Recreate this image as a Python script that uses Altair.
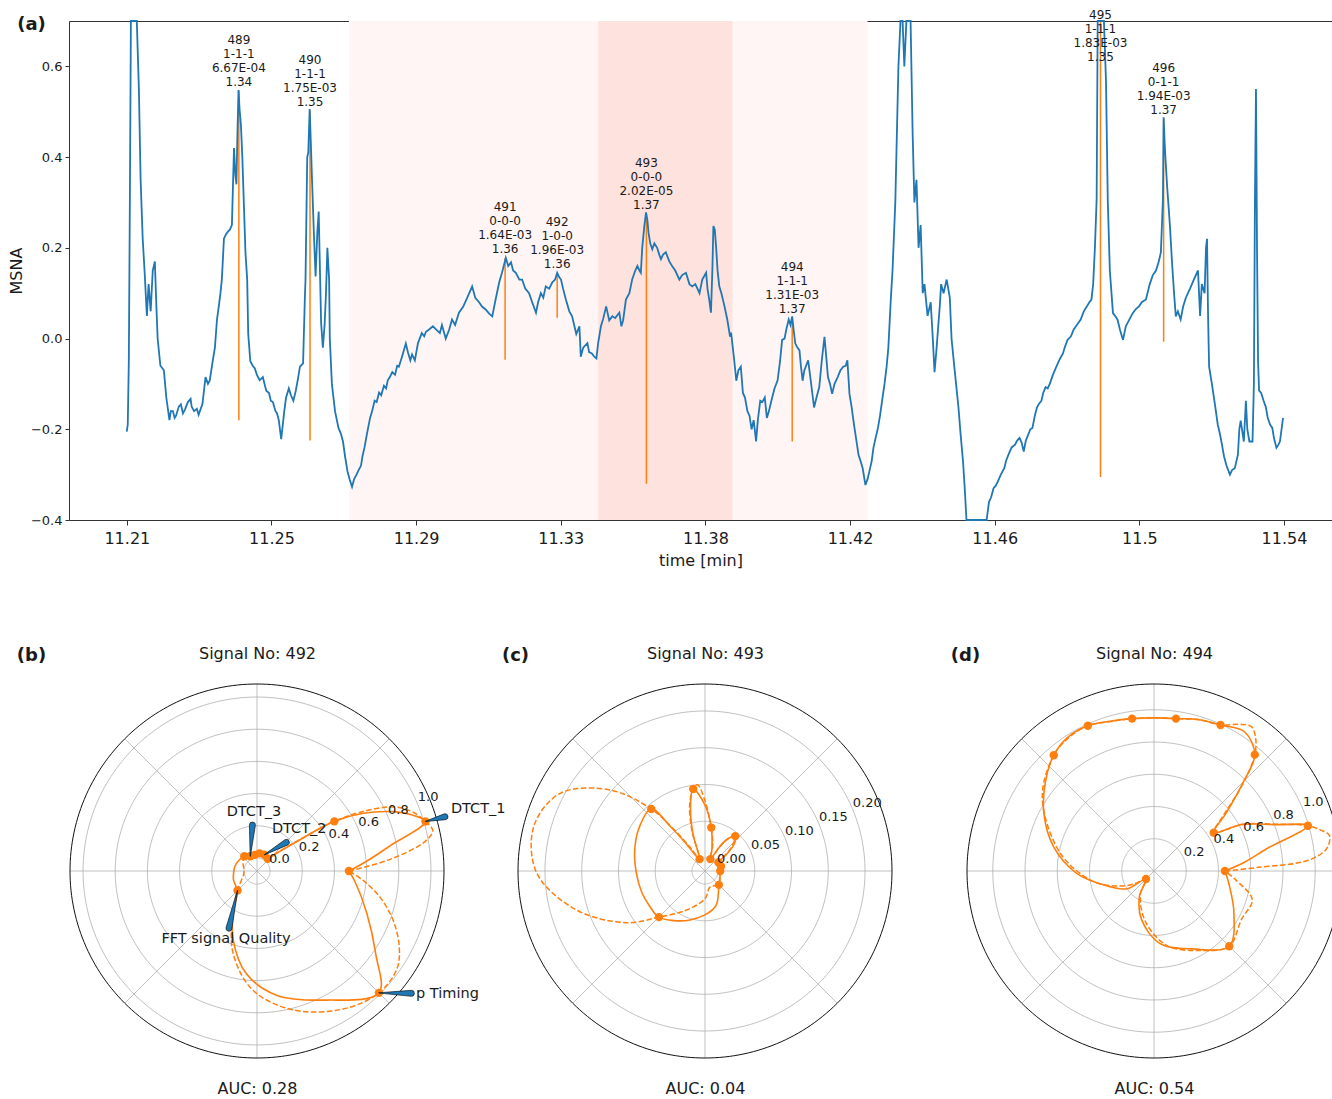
import json
import altair as alt
import pandas as pd

# ================= panel (a): MSNA trace =================
signal = [
    (11.2083, -0.205), (11.2086, -0.19), (11.2089, -0.05), (11.2092, 0.3), (11.2095, 0.8), (11.2100, 1.0),
    (11.2106, 0.95), (11.2112, 0.8), (11.2118, 0.55), (11.2123, 0.35), (11.2129, 0.22), (11.2135, 0.14),
    (11.2141, 0.05), (11.2146, 0.12), (11.2152, 0.06), (11.2158, 0.15), (11.2164, 0.17), (11.2168, 0.08),
    (11.2172, 0.0), (11.2180, -0.06), (11.2190, -0.07), (11.2197, -0.13), (11.2206, -0.18), (11.2210, -0.16),
    (11.2216, -0.16), (11.2221, -0.175), (11.2225, -0.17), (11.2233, -0.15), (11.2239, -0.145), (11.2245, -0.165),
    (11.2251, -0.156), (11.2259, -0.14), (11.2267, -0.133), (11.2270, -0.15), (11.2277, -0.16), (11.2285, -0.155),
    (11.2290, -0.168), (11.2296, -0.155), (11.2301, -0.145), (11.2310, -0.085), (11.2317, -0.1), (11.2322, -0.093),
    (11.2331, -0.048), (11.2337, -0.02), (11.2343, 0.042), (11.2348, 0.07), (11.2353, 0.1), (11.2357, 0.13),
    (11.2363, 0.22), (11.2369, 0.23), (11.2374, 0.235), (11.2380, 0.24), (11.2386, 0.25), (11.2392, 0.42),
    (11.2396, 0.36), (11.2399, 0.34), (11.2402, 0.455), (11.2405, 0.548), (11.2408, 0.506), (11.2412, 0.47),
    (11.2416, 0.40), (11.2420, 0.307), (11.2425, 0.19), (11.2430, 0.13), (11.2433, 0.01), (11.2439, -0.05),
    (11.2446, -0.06), (11.2452, -0.066), (11.2458, -0.08), (11.2466, -0.092), (11.2475, -0.085), (11.2480, -0.10),
    (11.2485, -0.115), (11.2493, -0.12), (11.2498, -0.137), (11.2504, -0.14), (11.2511, -0.159), (11.2516, -0.165),
    (11.2521, -0.18), (11.2528, -0.222), (11.2537, -0.159), (11.2542, -0.13), (11.2550, -0.11), (11.2556, -0.125),
    (11.2563, -0.137), (11.2570, -0.115), (11.2576, -0.09), (11.2582, -0.062), (11.2591, -0.055), (11.2596, 0.086),
    (11.2598, 0.13), (11.2603, 0.40), (11.2606, 0.41), (11.2610, 0.506), (11.2613, 0.44), (11.2617, 0.345),
    (11.2622, 0.234), (11.2627, 0.137), (11.2632, 0.234), (11.2636, 0.28), (11.2640, 0.137), (11.2643, 0.034),
    (11.2648, -0.02), (11.2653, 0.03), (11.2657, 0.1), (11.2661, 0.2), (11.2666, 0.13), (11.2668, 0.0),
    (11.2674, -0.1), (11.2683, -0.16), (11.2693, -0.197), (11.2700, -0.21), (11.2706, -0.227), (11.2712, -0.26),
    (11.2719, -0.293), (11.2725, -0.31), (11.2732, -0.327), (11.2738, -0.31), (11.2745, -0.30), (11.2751, -0.29),
    (11.2758, -0.28), (11.2762, -0.26), (11.2768, -0.24), (11.2775, -0.21), (11.2784, -0.175), (11.2790, -0.16),
    (11.2797, -0.137), (11.2803, -0.14), (11.2810, -0.119), (11.2816, -0.125), (11.2824, -0.104), (11.2830, -0.11),
    (11.2835, -0.092), (11.2841, -0.085), (11.2848, -0.074), (11.2856, -0.08), (11.2862, -0.06), (11.2867, -0.062),
    (11.2876, -0.04), (11.2887, -0.011), (11.2893, -0.03), (11.2900, -0.048), (11.2905, -0.035), (11.2913, -0.048),
    (11.2922, -0.01), (11.2933, 0.012), (11.2940, 0.005), (11.2945, 0.015), (11.2954, 0.02), (11.2965, 0.027),
    (11.2974, 0.02), (11.2985, 0.012), (11.2991, 0.03), (11.3002, 0.0), (11.3012, 0.02), (11.3020, 0.042),
    (11.3029, 0.03), (11.3040, 0.057), (11.3052, 0.07), (11.3064, 0.09), (11.3078, 0.115), (11.3087, 0.09),
    (11.3098, 0.08), (11.3107, 0.07), (11.3117, 0.064), (11.3127, 0.055), (11.3136, 0.049), (11.3144, 0.08),
    (11.3156, 0.124), (11.3164, 0.145), (11.3175, 0.178), (11.3182, 0.16), (11.3190, 0.168), (11.3196, 0.15),
    (11.3204, 0.145), (11.3214, 0.13), (11.3222, 0.13), (11.3231, 0.11), (11.3242, 0.10), (11.3251, 0.08),
    (11.3262, 0.057), (11.3268, 0.08), (11.3276, 0.10), (11.3283, 0.09), (11.3290, 0.115), (11.3300, 0.11),
    (11.3309, 0.124), (11.3317, 0.13), (11.3323, 0.145), (11.3329, 0.135), (11.3334, 0.13), (11.3340, 0.11),
    (11.3348, 0.086), (11.3358, 0.06), (11.3366, 0.049), (11.3378, 0.01), (11.3387, 0.027), (11.3391, -0.04),
    (11.3398, -0.02), (11.3410, -0.01), (11.3415, -0.03), (11.3423, -0.033), (11.3430, -0.04), (11.3436, -0.044),
    (11.3441, -0.01), (11.3449, 0.027), (11.3456, 0.045), (11.3464, 0.071), (11.3473, 0.04), (11.3482, 0.049),
    (11.3490, 0.045), (11.3502, 0.057), (11.3508, 0.027), (11.3513, 0.04), (11.3521, 0.086), (11.3531, 0.1),
    (11.3539, 0.13), (11.3548, 0.15), (11.3554, 0.16), (11.3560, 0.15), (11.3564, 0.145), (11.3568, 0.2),
    (11.3574, 0.248), (11.3579, 0.278), (11.3583, 0.26), (11.3586, 0.234), (11.3591, 0.21), (11.3597, 0.197),
    (11.3603, 0.21), (11.3611, 0.2), (11.3617, 0.185), (11.3622, 0.175), (11.3628, 0.185), (11.3636, 0.19),
    (11.3646, 0.17), (11.3654, 0.16), (11.3663, 0.15), (11.3675, 0.13), (11.3683, 0.14), (11.3694, 0.145),
    (11.3704, 0.12), (11.3712, 0.115), (11.3721, 0.12), (11.3733, 0.10), (11.3741, 0.13), (11.3752, 0.145),
    (11.3756, 0.11), (11.3761, 0.086), (11.3766, 0.057), (11.3770, 0.15), (11.3773, 0.248), (11.3777, 0.24),
    (11.3781, 0.2), (11.3785, 0.15), (11.3790, 0.115), (11.3796, 0.1), (11.3805, 0.071), (11.3813, 0.042),
    (11.3821, 0.004), (11.3824, 0.013), (11.3833, -0.048), (11.3839, -0.093), (11.3845, -0.07), (11.3852, -0.062),
    (11.3858, -0.12), (11.3864, -0.13), (11.3871, -0.16), (11.3877, -0.17), (11.3883, -0.2), (11.3889, -0.18),
    (11.3896, -0.227), (11.3901, -0.18), (11.3908, -0.137), (11.3914, -0.14), (11.3921, -0.13), (11.3927, -0.175),
    (11.3933, -0.16), (11.3940, -0.137), (11.3949, -0.11), (11.3958, -0.092), (11.3965, -0.05), (11.3971, -0.003),
    (11.3978, 0.0), (11.3983, 0.02), (11.3990, 0.042), (11.3995, 0.03), (11.4000, 0.049), (11.4004, 0.02),
    (11.4009, -0.011), (11.4015, -0.02), (11.4021, -0.026), (11.4025, -0.06), (11.4030, -0.093), (11.4035, -0.07),
    (11.4040, -0.06), (11.4046, -0.048), (11.4053, -0.09), (11.4063, -0.152), (11.4070, -0.13), (11.4078, -0.107),
    (11.4085, -0.05), (11.4093, 0.004), (11.4098, -0.04), (11.4103, -0.085), (11.4109, -0.1), (11.4115, -0.122),
    (11.4122, -0.1), (11.4131, -0.085), (11.4139, -0.07), (11.4147, -0.062), (11.4154, -0.06), (11.4159, -0.048),
    (11.4165, -0.122), (11.4171, -0.15), (11.4178, -0.19), (11.4184, -0.22), (11.4191, -0.256), (11.4197, -0.27),
    (11.4203, -0.286), (11.4211, -0.323), (11.4217, -0.31), (11.4222, -0.294), (11.4229, -0.27), (11.4234, -0.241),
    (11.4240, -0.22), (11.4247, -0.197), (11.4253, -0.17), (11.4259, -0.137), (11.4266, -0.1), (11.4272, -0.062),
    (11.4277, -0.02), (11.4284, 0.086), (11.4289, 0.15), (11.4297, 0.3), (11.4306, 0.6), (11.4312, 0.85),
    (11.4318, 1.0), (11.4323, 0.6), (11.4329, 0.9), (11.4335, 1.0), (11.4341, 0.8), (11.4347, 0.45),
    (11.4352, 0.3), (11.4358, 0.35), (11.4364, 0.2), (11.4370, 0.25), (11.4376, 0.1), (11.4381, 0.12),
    (11.4390, 0.05), (11.4399, 0.08), (11.4405, 0.0), (11.4410, -0.074), (11.4415, -0.03), (11.4419, 0.01),
    (11.4425, 0.07), (11.4429, 0.12), (11.4436, 0.1), (11.4445, 0.13), (11.4454, 0.09), (11.4459, 0.0),
    (11.4467, -0.062), (11.4472, -0.1), (11.4479, -0.152), (11.4485, -0.21), (11.4492, -0.27), (11.4497, -0.33),
    (11.4502, -0.404), (11.4511, -0.45), (11.4526, -0.5), (11.4540, -0.48), (11.4555, -0.43), (11.4560, -0.41),
    (11.4567, -0.36), (11.4573, -0.35), (11.4580, -0.33), (11.4586, -0.325), (11.4592, -0.316), (11.4601, -0.3),
    (11.4611, -0.286), (11.4616, -0.27), (11.4623, -0.256), (11.4632, -0.24), (11.4642, -0.234), (11.4648, -0.225),
    (11.4655, -0.219), (11.4661, -0.23), (11.4667, -0.249), (11.4673, -0.225), (11.4680, -0.212), (11.4686, -0.2),
    (11.4692, -0.197), (11.4699, -0.17), (11.4705, -0.152), (11.4710, -0.145), (11.4718, -0.137), (11.4723, -0.12),
    (11.4730, -0.107), (11.4736, -0.11), (11.4742, -0.1), (11.4751, -0.08), (11.4761, -0.062), (11.4771, -0.045),
    (11.4780, -0.033), (11.4785, -0.02), (11.4793, -0.003), (11.4803, 0.005), (11.4811, 0.02), (11.4820, 0.03),
    (11.4831, 0.042), (11.4840, 0.06), (11.4849, 0.071), (11.4856, 0.08), (11.4862, 0.086), (11.4867, 0.12),
    (11.4872, 0.2), (11.4877, 0.307), (11.4880, 0.8), (11.4886, 1.0), (11.4892, 0.9), (11.4898, 0.75),
    (11.4904, 0.566), (11.4909, 0.307), (11.4915, 0.15), (11.4924, 0.056), (11.4930, 0.05), (11.4937, 0.042),
    (11.4944, 0.02), (11.4953, -0.003), (11.4961, 0.027), (11.4970, 0.04), (11.4981, 0.056), (11.4990, 0.065),
    (11.4999, 0.071), (11.5007, 0.08), (11.5019, 0.086), (11.5030, 0.12), (11.5039, 0.14), (11.5048, 0.15),
    (11.5056, 0.17), (11.5062, 0.19), (11.5068, 0.307), (11.5070, 0.488), (11.5073, 0.43), (11.5075, 0.40),
    (11.5080, 0.336), (11.5088, 0.25), (11.5094, 0.17), (11.5100, 0.1), (11.5105, 0.049), (11.5111, 0.06),
    (11.5119, 0.042), (11.5126, 0.07), (11.5134, 0.09), (11.5146, 0.11), (11.5157, 0.13), (11.5169, 0.15),
    (11.5175, 0.05), (11.5180, 0.12), (11.5188, 0.1), (11.5192, 0.2), (11.5195, 0.22), (11.5198, 0.05),
    (11.5201, -0.062), (11.5209, -0.1), (11.5219, -0.152), (11.5226, -0.19), (11.5232, -0.21), (11.5238, -0.234),
    (11.5244, -0.26), (11.5251, -0.28), (11.5261, -0.3), (11.5267, -0.29), (11.5275, -0.286), (11.5284, -0.256),
    (11.5288, -0.2), (11.5292, -0.181), (11.5301, -0.227), (11.5307, -0.137), (11.5311, -0.2), (11.5317, -0.227),
    (11.5326, -0.227), (11.5330, -0.1), (11.5333, 0.3), (11.5336, 0.55), (11.5339, 0.2), (11.5342, -0.05),
    (11.5345, -0.115), (11.5351, -0.12), (11.5358, -0.137), (11.5364, -0.15), (11.5370, -0.175), (11.5377, -0.19),
    (11.5383, -0.197), (11.5388, -0.22), (11.5395, -0.241), (11.5400, -0.235), (11.5405, -0.227), (11.5414, -0.175),
]

span_start = [11.2723, 11.3441]
span_end = [11.4217, 11.3828]
span_kind = ["outer", "inner"]

sig_no = [489, 490, 491, 492, 493, 494, 495, 496]
sig_code = ["1-1-1", "1-1-1", "0-0-0", "1-0-0", "0-0-0", "1-1-1", "1-1-1", "0-1-1"]
sig_p = ["6.67E-04", "1.75E-03", "1.64E-03", "1.96E-03", "2.02E-05", "1.31E-03", "1.83E-03", "1.94E-03"]
sig_q = ["1.34", "1.35", "1.36", "1.36", "1.37", "1.37", "1.35", "1.37"]
sig_time = [11.2406, 11.2611, 11.3173, 11.3323, 11.3580, 11.4000, 11.4888, 11.5070]
sig_anchor = [0.546, 0.502, 0.177, 0.144, 0.274, 0.046, 0.60, 0.484]
mark_top = [0.546, 0.502, 0.177, 0.144, 0.274, 0.046, 0.70, 0.484]
mark_bottom = [-0.18, -0.225, -0.047, 0.046, -0.32, -0.227, -0.305, -0.007]

x_ticks = [11.208333, 11.25, 11.291667, 11.333333, 11.375, 11.416667, 11.458333, 11.5, 11.541667]
x_tick_labels = ["11.21", "11.25", "11.29", "11.33", "11.38", "11.42", "11.46", "11.5", "11.54"]
y_ticks = [-0.4, -0.2, 0.0, 0.2, 0.4, 0.6]
y_limits = [-0.4, 0.7]

# ================= panels (b)-(d): polar plots =================
feat_theta = [0, 16.4, 32.7, 49.1, 65.5, 81.8, 98.2, 114.5, 130.9, 225, 315]
spoke_theta = [0, 45, 90, 135, 180, 225, 270, 315]

b_feat_r = [0.49, 1.01, 0.49, 0.02, 0.03, 0.03, 0.02, 0.02, 0.04, 0.09, 0.99]
b_solid = [(0, 0.49), (5, 0.60), (10.7, 0.76), (16.4, 1.01), (20, 0.94), (23.6, 0.84), (28.5, 0.67),
           (32.7, 0.49), (36, 0.25), (42.4, 0.08), (49.1, 0.02), (57, 0.02), (65.5, 0.03), (73, 0.03),
           (81.8, 0.03), (90, 0.025), (98.2, 0.02), (106, 0.015), (114.5, 0.02), (122, 0.03), (130.9, 0.04),
           (150, 0.05), (169, 0.06), (185, 0.065), (200.6, 0.075), (215, 0.08), (225, 0.09), (240.4, 0.22),
           (250.8, 0.37), (264, 0.56), (278.9, 0.70), (298.3, 0.83), (315, 0.99), (325, 0.82), (339, 0.65),
           (354, 0.53), (360, 0.49)]
b_dash = [(0, 0.49), (5, 0.75), (10, 0.98), (13, 1.04), (16.4, 1.01), (21, 0.95), (25, 0.86), (29, 0.69),
          (32.7, 0.49), (36, 0.27), (42, 0.09), (49.1, 0.02), (57, 0.015), (65.5, 0.03), (73, 0.035),
          (81.8, 0.03), (90, 0.025), (98.2, 0.02), (106, 0.015), (114.5, 0.02), (122, 0.03), (130.9, 0.04),
          (150, 0.02), (165, 0.005), (180, 0.0), (195, 0.005), (210, 0.03), (225, 0.09), (240, 0.22),
          (253.7, 0.45), (268, 0.66), (284.5, 0.81), (302, 0.93), (315, 0.99), (325, 0.98), (332, 0.92),
          (340, 0.82), (348, 0.70), (355, 0.58), (360, 0.49)]
b_rings = [0.0, 0.2, 0.4, 0.6, 0.8, 1.0]
b_ring_labels = ["0.0", "0.2", "0.4", "0.6", "0.8", "1.0"]

c_feat_r = [0.003, 0.005, 0.004, 0.045, 0.0, 0.042, 0.095, 0.0, 0.094, 0.071, 0.009]
c_solid = [(0, 0.003), (8, 0.004), (16.4, 0.005), (24, 0.004), (32.7, 0.004), (38, 0.02), (43, 0.037),
           (49.1, 0.045), (55, 0.035), (60, 0.015), (65.5, 0.0), (73, 0.015), (81.8, 0.042), (90, 0.072),
           (98.2, 0.095), (103, 0.07), (108, 0.035), (114.5, 0.0), (120, 0.005), (125, 0.03), (128, 0.06),
           (130.9, 0.094), (148, 0.089), (166, 0.081), (185, 0.075), (199, 0.073), (213, 0.0715), (225, 0.071),
           (253, 0.052), (286, 0.033), (315, 0.009), (340, 0.004), (360, 0.003)]
c_dash = [(0, 0.003), (16.4, 0.005), (32.7, 0.004), (40, 0.025), (49.1, 0.045), (57, 0.03), (65.5, 0.0),
          (73, 0.018), (81.8, 0.042), (90, 0.078), (95, 0.1), (98.2, 0.095), (103, 0.075), (108, 0.04),
          (114.5, 0.0), (122, 0.02), (127, 0.055), (130.9, 0.094), (139.5, 0.152), (151.8, 0.206),
          (165.5, 0.223), (180.8, 0.211), (196.9, 0.165), (213.4, 0.11), (225, 0.071), (244.8, 0.041),
          (270, 0.02), (287.7, 0.005), (315, 0.009), (340, 0.004), (360, 0.003)]
c_rings = [0.0, 0.05, 0.10, 0.15, 0.20]
c_ring_labels = ["0.00", "0.05", "0.10", "0.15", "0.20"]

d_feat_r = [0.44, 0.995, 0.44, 0.955, 0.995, 0.955, 0.955, 0.99, 0.95, 0.07, 0.66]
d_solid = [(0, 0.44), (5.8, 0.57), (11.1, 0.71), (16.4, 0.995), (20.9, 0.806), (27.8, 0.62), (32.7, 0.44),
           (38.6, 0.57), (44.6, 0.77), (49.1, 0.955), (57, 1.03), (65.5, 0.995), (73.3, 0.98), (81.8, 0.955),
           (90, 0.95), (98.2, 0.955), (106.4, 0.968), (114.5, 0.99), (123, 0.987), (130.9, 0.95),
           (140.2, 0.875), (152.5, 0.77), (166.5, 0.64), (181.7, 0.48), (199.5, 0.29), (213.5, 0.2),
           (225, 0.07), (240, 0.18), (255.5, 0.31), (274.5, 0.45), (296.5, 0.54), (315, 0.66),
           (332.3, 0.56), (350.7, 0.47), (360, 0.44)]
d_dash = [(0, 0.44), (2, 0.65), (4, 0.96), (7.4, 1.08), (11.5, 1.11), (14, 1.06), (16.4, 0.995), (21, 0.81),
          (27.8, 0.62), (32.7, 0.44), (38.6, 0.55), (44.6, 0.78), (49.1, 0.955), (52.7, 1.04), (56, 1.08),
          (60, 1.05), (65.5, 0.995), (73, 0.98), (81.8, 0.955), (90, 0.95), (98.2, 0.955), (106, 0.965),
          (114.5, 0.99), (123, 0.98), (130.9, 0.95), (146.6, 0.83), (169.4, 0.59), (190, 0.38), (205, 0.22),
          (214.9, 0.13), (225, 0.07), (240, 0.17), (260.6, 0.32), (280, 0.47), (300, 0.57), (315, 0.66),
          (331, 0.62), (343.7, 0.635), (353.8, 0.51), (360, 0.44)]
d_rings = [0.2, 0.4, 0.6, 0.8, 1.0]
d_ring_labels = ["0.2", "0.4", "0.6", "0.8", "1.0"]

# feature annotations of panel (b)
b_lab_left = ["DTCT_1", "DTCT_2", "p Timing"]
b_lab_left_theta = [17.7, 70.5, 322.3]
b_lab_left_r = [1.184, 0.196, 1.168]
b_lab_center = ["DTCT_3", "FFT signal Quality"]
b_lab_center_theta = [92.9, 245.5]
b_lab_center_r = [0.286, 0.383]
wedge_name = ["DTCT_1", "DTCT_2", "DTCT_3", "FFT signal Quality", "p Timing"]
wedge_base = [(16.1, 1.135), (44.3, 0.174), (95.7, 0.206), (243.9, 0.315), (321.6, 1.143)]
wedge_tip = [(16.4, 1.01), (65.5, 0.03), (114.5, 0.02), (225, 0.09), (315, 0.99)]

panel_titles = ["Signal No: 492", "Signal No: 493", "Signal No: 494"]
panel_auc = ["AUC: 0.28", "AUC: 0.04", "AUC: 0.54"]
panel_tags = ["(b)", "(c)", "(d)"]
panel_rlim = [(-0.081, 1.081), (-0.0177, 0.2367), (0.0, 1.16)]

# ================= styling / layout =================
FONT = "DejaVu Sans"
BLUE = "#1f77b4"
ORANGE = "#ff7f0e"
GRID = "#b0b0b0"
INK = "#1a1a1a"
SPINE = "#333333"
W, H = 1332, 1099
XR = [69, 1332]
YR = [520, 21]
T_DOM = [11.19167, 11.5555]
R = 187
CY = 871
CENTERS = [257, 705, 1154]
TAG_X = [31, 515, 965]

NOAX = dict(grid=False, domain=False, ticks=False, labels=False)


def tx(**kw):
    return alt.Scale(domain=T_DOM, range=XR, nice=False, zero=False, **kw)


def ty(**kw):
    return alt.Scale(domain=y_limits, range=YR, nice=False, zero=False, **kw)


layers = []

# ---- panel (a)
spans = pd.DataFrame({"start": span_start, "end": span_end, "kind": span_kind,
                      "lo": [y_limits[0]] * 2, "hi": [y_limits[1]] * 2})
layers.append(
    alt.Chart(spans).mark_rect().encode(
        x=alt.X("start:Q", scale=tx(), axis=alt.Axis(orient="top", offset=-21, labels=False, ticks=False,
                                                      title=None, grid=False, domainColor=SPINE)),
        x2="end:Q",
        y=alt.Y("lo:Q", scale=ty(), axis=None),
        y2="hi:Q",
        color=alt.Color("kind:N", scale=alt.Scale(domain=["outer", "inner"], range=["#fff5f4", "#fde2de"]),
                        legend=None),
    )
)

ann = pd.DataFrame({
    "t": sig_time,
    "anchor": sig_anchor,
    "top": mark_top,
    "bottom": mark_bottom,
    "label": [f"{n}\n{c}\n{p}\n{q}" for n, c, p, q in zip(sig_no, sig_code, sig_p, sig_q)],
})
layers.append(
    alt.Chart(ann).mark_rule(color=ORANGE, strokeWidth=1.5).encode(
        x=alt.X("t:Q", scale=tx(), axis=None),
        y=alt.Y("top:Q", scale=ty(clamp=True),
                axis=alt.Axis(orient="left", offset=0, title="(a)", titleAngle=0, titleX=31, titleY=24,
                              titleAlign="center", titleBaseline="middle", titleFontSize=18,
                              titleFontWeight="bold", titleColor=INK, **NOAX)),
        y2="bottom:Q",
    )
)

sig_df = pd.DataFrame(signal, columns=["t", "v"])
label_expr = f"{json.dumps(x_tick_labels)}[indexof({json.dumps(x_ticks)}, datum.value)]"
layers.append(
    alt.Chart(sig_df).mark_line(color=BLUE, strokeWidth=1.8).encode(
        x=alt.X("t:Q", scale=tx(),
                axis=alt.Axis(orient="bottom", offset=-579, values=x_ticks, labelExpr=label_expr,
                              title="time [min]", labelFontSize=16, titleFontSize=16, tickSize=5,
                              labelPadding=5, titlePadding=6, grid=False, domainColor=SPINE,
                              tickColor=SPINE, labelColor=INK, titleColor=INK)),
        y=alt.Y("v:Q", scale=ty(clamp=True),
                axis=alt.Axis(orient="left", offset=-69, values=y_ticks, format=".1f", title="MSNA",
                              labelFontSize=13, titleFontSize=16, tickSize=4, labelPadding=3,
                              titlePadding=6, grid=False, domainColor=SPINE, tickColor=SPINE,
                              labelColor=INK, titleColor=INK)),
    )
)

layers.append(
    alt.Chart(ann).mark_text(align="center", baseline="bottom", dy=-44, fontSize=12, lineHeight=14,
                             lineBreak="\n", color=INK).encode(
        x=alt.X("t:Q", scale=tx(), axis=None),
        y=alt.Y("anchor:Q", scale=ty(), axis=None),
        text="label:N",
    )
)


# ---- panels (b)-(d)
def polar_layers(k, feat_r, solid, dash, rings, ring_labels, extra=False):
    cx = CENTERS[k]
    rmin, rmax = panel_rlim[k]

    def XS():
        return alt.Scale(domain=[-1, 1], range=[cx - R, cx + R], nice=False, zero=False)

    def YS():
        return alt.Scale(domain=[-1, 1], range=[CY + R, CY - R], nice=False, zero=False)

    rho = f"((datum.r - ({rmin})) / ({rmax - rmin}))"

    def proj(ch, ang="datum.theta"):
        return ch.transform_calculate(
            px=f"{rho} * cos(({ang}) * PI / 180)",
            py=f"{rho} * sin(({ang}) * PI / 180)",
        )

    def xy(xaxis=None, yaxis=None):
        return dict(x=alt.X("px:Q", scale=XS(), axis=xaxis), y=alt.Y("py:Q", scale=YS(), axis=yaxis))

    out = []
    # spokes (from the pole to the outer frame)
    out.append(
        alt.Chart(pd.DataFrame({"theta": spoke_theta})).transform_calculate(
            ox="0", oy="0", ex="cos(datum.theta * PI / 180)", ey="sin(datum.theta * PI / 180)"
        ).mark_rule(color=GRID, strokeWidth=0.8).encode(
            x=alt.X("ox:Q", scale=XS(), axis=None),
            y=alt.Y("oy:Q", scale=YS(), axis=None),
            x2="ex:Q",
            y2="ey:Q",
        )
    )
    # grid rings and outer frame, traced around the full circle
    for vals, col, sw in ((rings, GRID, 0.8), ([rmax], "#111111", 1.0)):
        base = alt.Chart(pd.DataFrame({"r": vals})).transform_calculate(
            ang="sequence(0, 361, 1.5)"
        ).transform_flatten(["ang"])
        out.append(
            proj(base, ang="datum.ang").mark_line(color=col, strokeWidth=sw).encode(
                detail="r:N", order="ang:Q", **xy()
            )
        )
    # dashed curve (carries panel tag)
    dd = pd.DataFrame(dash, columns=["theta", "r"])
    dd["i"] = range(len(dd))
    out.append(
        proj(alt.Chart(dd)).mark_line(color=ORANGE, strokeWidth=1.5, strokeDash=[5.5, 2.4],
                                      interpolate="catmull-rom").encode(
            order="i:Q",
            **xy(yaxis=alt.Axis(orient="left", offset=0, title=panel_tags[k], titleAngle=0,
                                titleX=TAG_X[k], titleY=655, titleAlign="center", titleBaseline="middle",
                                titleFontSize=18, titleFontWeight="bold", titleColor=INK, **NOAX)),
        )
    )
    # solid curve (carries title)
    sd = pd.DataFrame(solid, columns=["theta", "r"])
    sd["i"] = range(len(sd))
    out.append(
        proj(alt.Chart(sd)).mark_line(color=ORANGE, strokeWidth=1.6, interpolate="catmull-rom").encode(
            order="i:Q",
            **xy(xaxis=alt.Axis(orient="top", offset=-661, title=panel_titles[k], titleFontSize=16,
                                titlePadding=0, titleColor=INK, titleFontWeight="normal", **NOAX)),
        )
    )
    # dots (carries AUC)
    fd = pd.DataFrame({"theta": feat_theta, "r": feat_r})
    out.append(
        proj(alt.Chart(fd)).mark_circle(size=70, color=ORANGE, opacity=1).encode(
            **xy(xaxis=alt.Axis(orient="bottom", offset=-19, title=panel_auc[k], titleFontSize=16,
                                titlePadding=0, titleColor=INK, titleFontWeight="normal", **NOAX)),
        )
    )
    # ring labels at 22.5 deg
    out.append(
        proj(alt.Chart(pd.DataFrame({"r": rings, "lab": ring_labels})), ang="22.5").mark_text(
            align="left", baseline="bottom", fontSize=13, color=INK
        ).encode(text="lab:N", **xy())
    )
    if extra:
        rows = []
        for n, b, t in zip(wedge_name, wedge_base, wedge_tip):
            rows.append({"name": n, "theta": b[0], "r": b[1], "w": 1.0})
            rows.append({"name": n, "theta": t[0], "r": t[1], "w": 0.0})
        out.append(
            proj(alt.Chart(pd.DataFrame(rows))).mark_trail(color=BLUE, stroke="#000000", strokeWidth=0.6).encode(
                detail="name:N",
                order="w:Q",
                size=alt.Size("w:Q", scale=alt.Scale(domain=[0, 1], range=[0.3, 6]), legend=None),
                **xy(),
            )
        )
        out.append(
            proj(alt.Chart(pd.DataFrame({"theta": b_lab_left_theta, "r": b_lab_left_r, "lab": b_lab_left})))
            .mark_text(align="left", baseline="middle", fontSize=14.5, color=INK)
            .encode(text="lab:N", **xy())
        )
        out.append(
            proj(alt.Chart(pd.DataFrame({"theta": b_lab_center_theta, "r": b_lab_center_r,
                                         "lab": b_lab_center})))
            .mark_text(align="center", baseline="middle", fontSize=14.5, color=INK)
            .encode(text="lab:N", **xy())
        )
    return out


layers += polar_layers(0, b_feat_r, b_solid, b_dash, b_rings, b_ring_labels, extra=True)
layers += polar_layers(1, c_feat_r, c_solid, c_dash, c_rings, c_ring_labels)
layers += polar_layers(2, d_feat_r, d_solid, d_dash, d_rings, d_ring_labels)

chart = alt.layer(*layers).resolve_scale(
    x="independent", y="independent", color="independent", size="independent"
).properties(
    width=W, height=H, autosize=alt.AutoSizeParams(type="none"), padding=0
).configure(font=FONT).configure_axis(
    labelFont=FONT, titleFont=FONT, titleFontWeight="normal"
).configure_text(font=FONT).configure_view(strokeWidth=0)

chart.save("out.html", embed_options={"renderer": "svg", "actions": False})
